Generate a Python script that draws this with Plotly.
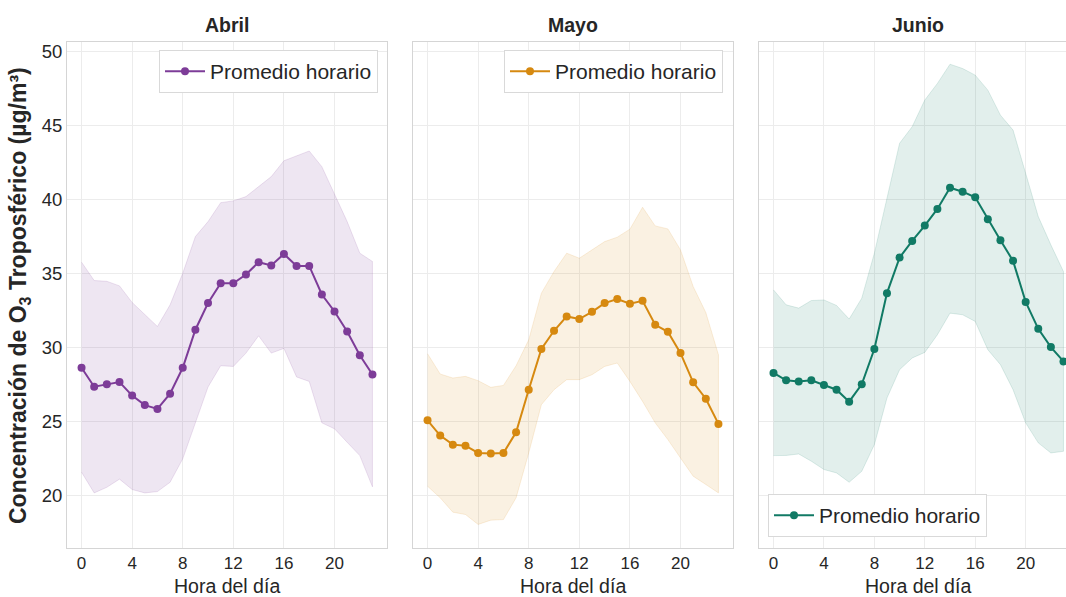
import plotly.graph_objects as go

hours = list(range(24))
months = ["Abril", "Mayo", "Junio"]
legend_label = "Promedio horario"
x_title = "Hora del día"
x_ticks = [0, 4, 8, 12, 16, 20]
y_ticks = [20, 25, 30, 35, 40, 45, 50]

abril_mean = [28.62, 27.34, 27.50, 27.66, 26.74, 26.10, 25.84, 26.87, 28.62, 31.19, 32.99, 34.33,
              34.33, 34.92, 35.75, 35.53, 36.31, 35.50, 35.50, 33.57, 32.42, 31.07, 29.47, 28.17]
abril_upper = [35.75, 34.51, 34.46, 34.15, 33.03, 32.20, 31.41, 32.87, 35.00, 37.48, 38.49, 39.77,
               39.89, 40.18, 40.85, 41.53, 42.60, 42.94, 43.26, 42.20, 40.40, 38.49, 36.36, 35.80]
abril_lower = [21.57, 20.17, 20.55, 21.10, 20.40, 20.17, 20.26, 20.89, 22.47, 24.90, 27.32, 28.76,
               28.71, 29.61, 30.78, 29.61, 29.93, 28.00, 27.70, 24.90, 24.50, 23.59, 22.69, 20.58]

mayo_mean = [25.07, 24.04, 23.43, 23.36, 22.87, 22.83, 22.87, 24.26, 27.14, 29.89, 31.12, 32.09,
             31.91, 32.40, 32.99, 33.26, 32.94, 33.14, 31.52, 31.05, 29.61, 27.64, 26.53, 24.83]
mayo_upper = [29.57, 28.20, 27.93, 28.04, 27.75, 27.30, 27.43, 28.76, 30.51, 33.66, 35.12, 36.36,
              36.02, 36.58, 37.14, 37.44, 37.98, 39.46, 38.20, 38.00, 36.58, 34.11, 32.35, 29.50]
mayo_lower = [20.62, 19.84, 18.87, 18.71, 18.04, 18.33, 18.37, 19.84, 22.87, 26.13, 27.14, 27.82,
              27.82, 28.15, 28.71, 28.94, 27.70, 26.35, 24.90, 23.77, 22.53, 21.30, 20.74, 20.17]

junio_mean = [28.27, 27.77, 27.70, 27.77, 27.46, 27.14, 26.33, 27.50, 29.89, 33.66, 36.06, 37.19,
              38.22, 39.35, 40.78, 40.51, 40.13, 38.65, 37.23, 35.84, 33.07, 31.25, 30.02, 29.05]
junio_upper = [33.88, 32.87, 32.65, 33.16, 33.20, 32.83, 31.91, 33.32, 36.36, 40.18, 43.78, 44.90,
               46.70, 47.82, 49.12, 48.83, 48.38, 47.37, 45.68, 44.67, 41.75, 38.83, 36.92, 35.12]
junio_lower = [22.69, 22.70, 22.80, 22.31, 21.75, 21.52, 20.89, 21.63, 23.43, 26.58, 28.49, 29.28,
               29.66, 30.85, 32.31, 32.20, 31.75, 29.84, 28.83, 27.14, 24.90, 23.55, 22.87, 22.98]

means = [abril_mean, mayo_mean, junio_mean]
uppers = [abril_upper, mayo_upper, junio_upper]
lowers = [abril_lower, mayo_lower, junio_lower]
colors = [(125, 60, 152), (214, 137, 16), (17, 122, 101)]
band_alpha = [0.13, 0.12, 0.12]

W, H = 1066, 597
FONT = "Liberation Sans, Arial, sans-serif"
TXT = "#262626"
GRID = "#ececec"
FRAME = "#d5d5d5"

x_domains = [[67 / W, 387 / W], [413 / W, 733 / W], [759 / W, 1.0]]
x_ranges = [[-1.15, 24.15], [-1.15, 24.15], [-1.15, 23.2]]
title_x = [227 / W, 573 / W, 918 / W]
xlabel_x = [227 / W, 573 / W, 918 / W]
y_domain = [1 - 548 / H, 1 - 42 / H]
y_range = [16.45, 50.62]

legend_pos = [
    dict(x=378 / W, y=1 - 50 / H, xanchor="right", yanchor="top"),
    dict(x=723 / W, y=1 - 50 / H, xanchor="right", yanchor="top"),
    dict(x=768 / W, y=1 - 537 / H, xanchor="left", yanchor="bottom"),
]

fig = go.Figure()
layout = dict(
    width=W, height=H, margin=dict(l=0, r=0, t=0, b=0),
    paper_bgcolor="white", plot_bgcolor="white",
    font=dict(family=FONT, size=17, color=TXT),
    showlegend=True, annotations=[],
)

for i in range(3):
    r, g, b = colors[i]
    col = f"rgb({r},{g},{b})"
    band = f"rgba({r},{g},{b},{band_alpha[i]})"
    edge = f"rgba({r},{g},{b},{band_alpha[i] + 0.05})"
    sfx = "" if i == 0 else str(i + 1)
    xa, ya = "x" + sfx, "y" + sfx
    leg = "legend" + sfx
    fig.add_trace(go.Scatter(
        x=hours + hours[::-1], y=uppers[i] + lowers[i][::-1],
        fill="toself", fillcolor=band, line=dict(color=edge, width=0.8),
        mode="lines", hoverinfo="skip", showlegend=False, xaxis=xa, yaxis=ya))
    fig.add_trace(go.Scatter(
        x=hours, y=means[i], mode="lines+markers", name=legend_label,
        line=dict(color=col, width=2), marker=dict(color=col, size=8),
        xaxis=xa, yaxis=ya, legend=leg))

    layout["xaxis" + sfx] = dict(
        domain=x_domains[i], range=x_ranges[i], anchor=ya,
        tickmode="array", tickvals=x_ticks, ticks="",
        tickfont=dict(size=17, color=TXT),
        showgrid=True, gridcolor=GRID, gridwidth=1, zeroline=False,
        showline=True, linecolor=FRAME, linewidth=1, mirror=True,
    )
    ycfg = dict(
        domain=y_domain, range=y_range, anchor=xa,
        tickmode="array", tickvals=y_ticks, ticks="",
        tickfont=dict(size=18.5, color=TXT),
        showgrid=True, gridcolor=GRID, gridwidth=1, zeroline=False,
        showline=True, linecolor=FRAME, linewidth=1, mirror=(i < 2),
        showticklabels=(i == 0),
    )
    if i > 0:
        ycfg["matches"] = "y"
    layout["yaxis" + sfx] = ycfg
    layout[leg] = dict(
        **legend_pos[i], bgcolor="white", bordercolor="#d9d9d9", borderwidth=1,
        font=dict(size=21, color=TXT), itemwidth=40,
    )
    layout["annotations"].append(dict(
        text=f"<b>{months[i]}</b>", xref="paper", yref="paper",
        x=title_x[i], y=1 - 25 / H,
        xanchor="center", yanchor="middle", showarrow=False,
        font=dict(size=19.5, color=TXT)))
    layout["annotations"].append(dict(
        text=x_title, xref="paper", yref="paper",
        x=xlabel_x[i], y=1 - 585.5 / H,
        xanchor="center", yanchor="middle", showarrow=False, borderpad=0,
        font=dict(size=19.5, color=TXT)))

layout["annotations"].append(dict(
    text="<b>Concentración de O<sub>3</sub> Troposférico (µg/m³)</b>",
    xref="paper", yref="paper", x=19 / W, y=1 - 296 / H,
    xanchor="center", yanchor="middle", textangle=-90, showarrow=False,
    font=dict(size=23, color=TXT)))

fig.update_layout(**layout)
fig.write_html("out.html")
